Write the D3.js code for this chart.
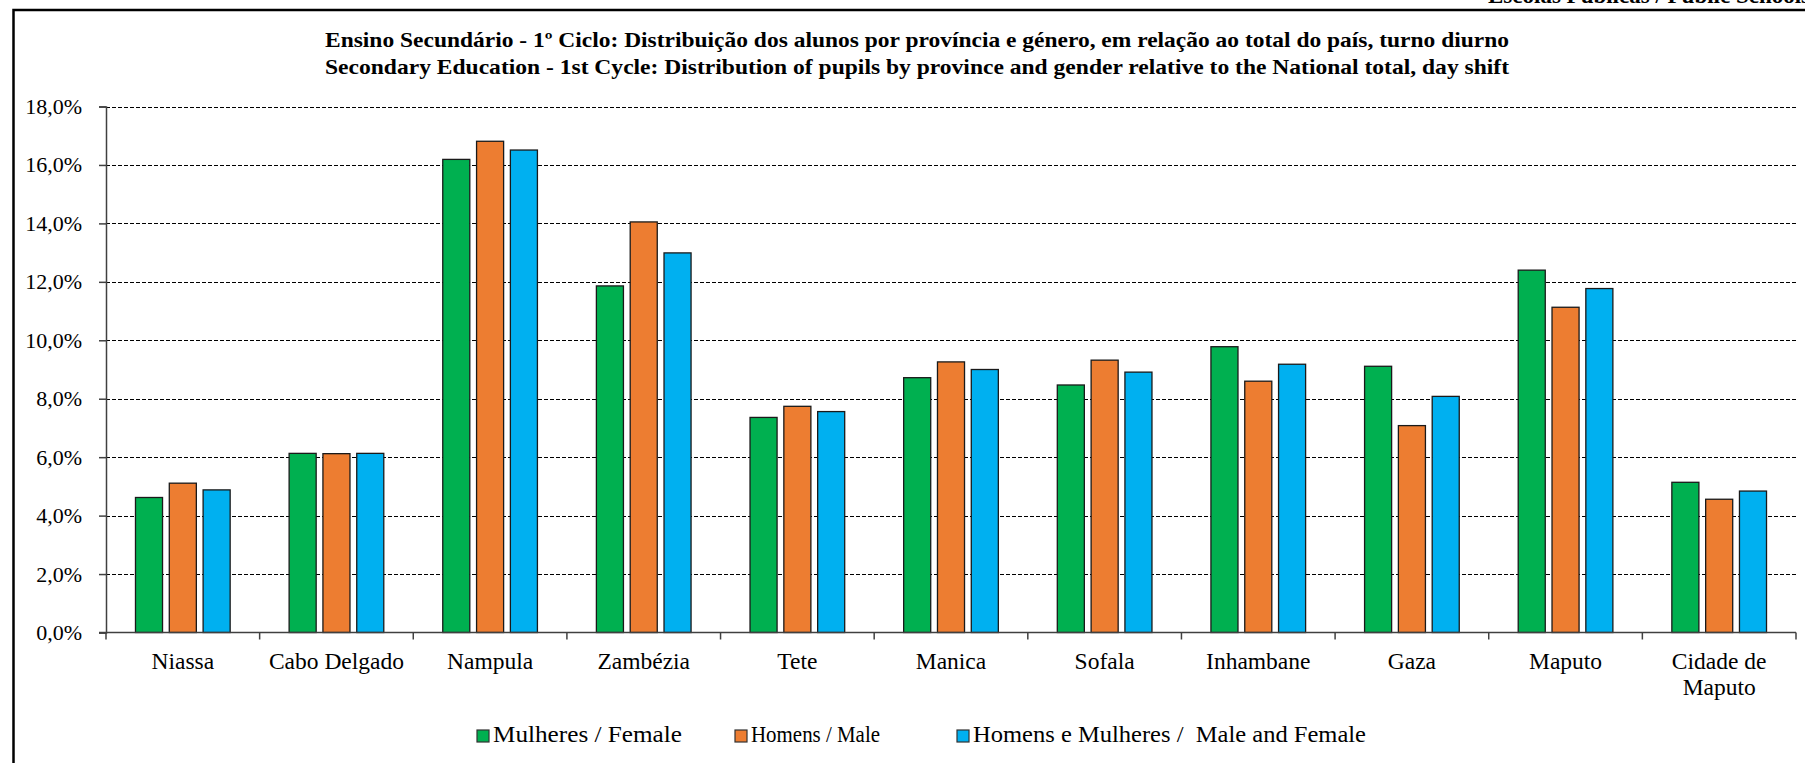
<!DOCTYPE html>
<html>
<head>
<meta charset="utf-8">
<script src="https://cdn.jsdelivr.net/npm/d3@7"></script>
<style>
  body { margin: 0; background: #fff; overflow: hidden; }
  text { font-family: "Liberation Serif", "DejaVu Serif", serif; fill: #000; }
</style>
</head>
<body>
<script>
// dados
var provincias = ["Niassa", "Cabo Delgado", "Nampula", "Zambézia", "Tete", "Manica",
                  "Sofala", "Inhambane", "Gaza", "Maputo", "Cidade de\nMaputo"];
var series = ["Mulheres / Female", "Homens / Male", "Homens e Mulheres /  Male and Female"];
var mulheres = [4.62, 6.13, 16.19, 11.86, 7.36, 8.72, 8.47, 9.78, 9.11, 12.40, 5.14];
var homens   = [5.11, 6.12, 16.81, 14.05, 7.74, 9.26, 9.32, 8.60, 7.08, 11.13, 4.56];
var total    = [4.88, 6.13, 16.51, 12.99, 7.56, 9.00, 8.91, 9.18, 8.08, 11.77, 4.84];
var yTicks = [0, 2, 4, 6, 8, 10, 12, 14, 16, 18];
var cores = ["#00B050", "#ED7D31", "#00B0F0"];
var titulo = ["Ensino Secundário - 1º Ciclo: Distribuição dos alunos por província e género, em relação ao total do país, turno diurno",
              "Secondary Education - 1st Cycle: Distribution of pupils by province and gender relative to the National total, day shift"];

var W = 1805, H = 763;
var pLeft = 106, pRight = 1796, pTop = 106.5, pBottom = 632.5;

var svg = d3.select("body").append("svg")
            .attr("width", W)
            .attr("height", H);

// cabecalho cortado
svg.append("text")
   .attr("x", 1488).attr("y", 3)
   .attr("font-size", 23).attr("font-weight", "bold")
   .text("Escolas Públicas / Public Schools");

// moldura
svg.append("rect")
   .attr("x", 13.5).attr("y", 10)
   .attr("width", W + 20).attr("height", H + 20)
   .attr("fill", "none").attr("stroke", "#000").attr("stroke-width", 2.5);

// titulo
svg.selectAll(".titulo")
   .data(titulo)
   .enter()
   .append("text")
   .attr("class", "titulo")
   .attr("x", 917)
   .attr("y", function(d, i){ return 47 + i * 27; })
   .attr("text-anchor", "middle")
   .attr("font-size", 21)
   .attr("font-weight", "bold")
   .attr("textLength", 1184)
   .attr("lengthAdjust", "spacingAndGlyphs")
   .text(function(d){ return d; });

var y = d3.scaleLinear().domain([0, 18]).range([pBottom, pTop]);
var x0 = d3.scaleBand().domain(provincias).range([pLeft, pRight]).padding(0);
var x1 = d3.scaleBand().domain(d3.range(3)).range([0, x0.bandwidth()])
           .paddingInner(0.2).paddingOuter(0.872);

// grelha
svg.selectAll(".grid")
   .data(yTicks.slice(1))
   .enter()
   .append("line")
   .attr("x1", pLeft).attr("x2", pRight)
   .attr("y1", function(d){ return Math.round(y(d)) + 0.5; })
   .attr("y2", function(d){ return Math.round(y(d)) + 0.5; })
   .attr("stroke", "#000")
   .attr("stroke-width", 1)
   .attr("stroke-dasharray", "4,2");

// barras
var dados = provincias.map(function(p, i){ return [mulheres[i], homens[i], total[i]]; });

var grupos = svg.selectAll(".grupo")
                .data(dados)
                .enter()
                .append("g")
                .attr("transform", function(d, i){ return "translate(" + x0(provincias[i]) + ",0)"; });

grupos.selectAll("rect")
      .data(function(d){ return d; })
      .enter()
      .append("rect")
      .attr("x", function(d, j){ return x1(j); })
      .attr("y", function(d){ return y(d); })
      .attr("width", x1.bandwidth())
      .attr("height", function(d){ return pBottom - y(d); })
      .attr("fill", function(d, j){ return cores[j]; })
      .attr("stroke", "#1a1a1a")
      .attr("stroke-width", 1.3);

// eixo y
var eixoY = svg.append("g")
               .attr("transform", "translate(" + pLeft + ",0)")
               .call(d3.axisLeft(y).tickValues(yTicks).tickSize(7).tickPadding(17)
                        .tickFormat(function(d){ return d3.format(".1f")(d).replace(".", ",") + "%"; }));
eixoY.select(".domain").attr("stroke", "#404040").attr("stroke-width", 1.5);
eixoY.selectAll(".tick line").attr("stroke", "#404040").attr("stroke-width", 1.5);
eixoY.selectAll(".tick text").attr("font-size", 22).attr("font-family", null);

// eixo x
svg.append("line")
   .attr("x1", pLeft - 7).attr("x2", pRight)
   .attr("y1", pBottom).attr("y2", pBottom)
   .attr("stroke", "#404040").attr("stroke-width", 1.5);

var cortes = provincias.map(function(p){ return x0(p); }).concat([pRight]);
svg.selectAll(".xtick")
   .data(cortes)
   .enter()
   .append("line")
   .attr("x1", function(d){ return d; }).attr("x2", function(d){ return d; })
   .attr("y1", pBottom).attr("y2", pBottom + 7)
   .attr("stroke", "#404040").attr("stroke-width", 1.5);

var rotulos = svg.selectAll(".cat")
                 .data(provincias)
                 .enter()
                 .append("text")
                 .attr("text-anchor", "middle")
                 .attr("font-size", 23.5)
                 .attr("y", 669);

rotulos.selectAll("tspan")
       .data(function(d){ return d.split("\n").map(function(t){ return { t: t, p: d }; }); })
       .enter()
       .append("tspan")
       .attr("x", function(d){ return x0(d.p) + x0.bandwidth() / 2; })
       .attr("dy", function(d, i){ return i === 0 ? 0 : 26; })
       .text(function(d){ return d.t; });

// legenda
var legX = [477, 735, 957];
var legW = [189, 129, 393];
var leg = svg.selectAll(".leg")
             .data(series)
             .enter()
             .append("g")
             .attr("transform", function(d, i){ return "translate(" + legX[i] + ",730)"; });

leg.append("rect")
   .attr("width", 12).attr("height", 12)
   .attr("fill", function(d, i){ return cores[i]; })
   .attr("stroke", "#333").attr("stroke-width", 1.2);

leg.append("text")
   .attr("x", 16).attr("y", 12)
   .attr("font-size", 23)
   .style("white-space", "pre")
   .attr("textLength", function(d, i){ return legW[i]; })
   .attr("lengthAdjust", "spacingAndGlyphs")
   .text(function(d){ return d; });
</script>
</body>
</html>
